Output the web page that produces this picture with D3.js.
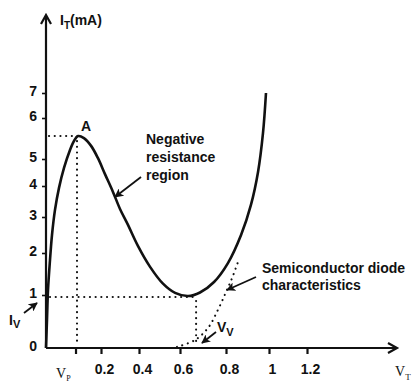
<!DOCTYPE html>
<html><head><meta charset="utf-8">
<script src="https://cdn.jsdelivr.net/npm/d3@7"></script>
<style>
html,body{margin:0;padding:0;background:#fff;}
svg{display:block;}
text{font-family:"Liberation Sans",Arial,sans-serif;font-weight:bold;fill:#111;}
.serif{font-family:"Liberation Serif","Times New Roman",serif;font-weight:normal;}
</style></head><body>
<svg id="chart" width="415" height="382"></svg>
<script>
// ---- data ----
const xTickValues = [0.2, 0.4, 0.6, 0.8, 1, 1.2];
const xTickLabels = ["0.2", "0.4", "0.6", "0.8", "1", "1.2"];
const yTickValues = [0, 1, 2, 3, 4, 5, 6, 7];
const yTickLabels = ["0", "1", "2", "3", "4", "5", "6", "7"];
// tunnel diode characteristic: V_T (V) and I_T (mA)
const curveV = [0, 0.0036, 0.0073, 0.0145, 0.0218, 0.0327, 0.0473, 0.0655, 0.0873, 0.1018, 0.1164,
  0.138, 0.164, 0.189, 0.221, 0.263, 0.300, 0.342, 0.395, 0.454, 0.517, 0.576, 0.635,
  0.687, 0.748, 0.809, 0.870, 0.916, 0.949, 0.972, 0.986];
const curveI = [0, 0.53, 1.12, 1.83, 2.5, 3.23, 3.94, 4.67, 5.22, 5.44, 5.56,
  5.51, 5.32, 5.02, 4.44, 3.81, 3.26, 2.78, 2.19, 1.67, 1.27, 1.05, 0.98,
  1.06, 1.31, 1.76, 2.5, 3.39, 4.52, 5.63, 7.0];
// ordinary semiconductor diode characteristic
const diodeV = [0.585, 0.665, 0.722, 0.765, 0.8, 0.828, 0.856];
const diodeI = [0.02, 0.15, 0.38, 0.72, 1.07, 1.4, 1.79];
// peak and valley points
const peakV = 0.1164, peakI = 5.56;
const valleyV = 0.67, valleyI = 1.0;

// ---- layout ----
const svg = d3.select("#chart");
const x = d3.scaleLinear().domain([0, 0.2, 0.4, 0.6, 0.8, 1, 1.2]).range([46, 101, 139, 180, 226, 269, 307]);
const y = d3.scaleLinear().domain([0, 1, 2, 3, 4, 5, 6, 7]).range([348, 295, 253, 217, 186, 159, 118, 93]);
const x0 = x(0), y0 = y(0);
const xEnd = 397, yTop = 15;

const defs = svg.append("defs");
defs.append("marker").attr("id", "ah").attr("viewBox", "0 0 10 10").attr("refX", 9).attr("refY", 5)
  .attr("markerWidth", 9).attr("markerHeight", 9).attr("markerUnits", "userSpaceOnUse").attr("orient", "auto")
  .append("path").attr("d", "M0,0 L10,5 L0,10 L2.5,5 Z").attr("fill", "#111");

// dotted guide lines
const dot = g => g.attr("stroke", "#111").attr("stroke-width", 2.1).attr("stroke-linecap", "round")
  .attr("stroke-dasharray", "0.1,5.6").attr("fill", "none");
svg.append("line").attr("x1", x0 + 3).attr("x2", x(peakV)).attr("y1", y(peakI)).attr("y2", y(peakI)).call(dot);
svg.append("line").attr("x1", x(peakV) - 1).attr("x2", x(peakV) - 1).attr("y1", y(peakI) + 5).attr("y2", y0 - 3).call(dot);
svg.append("line").attr("x1", x0 + 4).attr("x2", x(valleyV)).attr("y1", y(valleyI) + 2).attr("y2", y(valleyI) + 2).call(dot);
svg.append("line").attr("x1", x(valleyV)).attr("x2", x(valleyV)).attr("y1", y(valleyI) + 6).attr("y2", y0 - 4).call(dot);

// diode dotted curve
const diodeLine = d3.line().x(d => x(d[0])).y(d => y(d[1])).curve(d3.curveCatmullRom);
svg.append("path").attr("d", diodeLine(diodeV.map((v, i) => [v, diodeI[i]]))).call(dot);

// axes
const xAxis = d3.axisBottom(x).tickValues(xTickValues).tickFormat((d, i) => xTickLabels[i]).tickSize(6).tickPadding(10);
const gx = svg.append("g").attr("transform", `translate(0,${y0})`).call(xAxis);
gx.select(".domain").remove();
gx.selectAll(".tick line").attr("stroke", "#111").attr("stroke-width", 2.2);
gx.selectAll(".tick text").attr("font-size", 14).attr("dx", 3).attr("font-family", "Liberation Sans, Arial, sans-serif");

const yAxis = d3.axisLeft(y).tickValues(yTickValues).tickFormat((d, i) => yTickLabels[i]).tickSize(4).tickPadding(5);
const gy = svg.append("g").attr("transform", `translate(${x0},0)`).call(yAxis);
gy.select(".domain").remove();
gy.selectAll(".tick line").attr("stroke", "#111").attr("stroke-width", 1.6);
gy.selectAll(".tick text").attr("font-size", 14).attr("dy", "0.2em").attr("font-family", "Liberation Sans, Arial, sans-serif");
gy.selectAll(".tick").filter(d => d === 0).select("line").remove();

// V_P tick
svg.append("line").attr("x1", x(peakV) - 2).attr("x2", x(peakV) - 2).attr("y1", y0).attr("y2", y0 + 6).attr("stroke", "#111").attr("stroke-width", 2.2);

// axis lines with open arrowheads
svg.append("path").attr("d", `M${x0},${y0} H${xEnd} M${xEnd - 9},${y0 - 5} L${xEnd},${y0} L${xEnd - 9},${y0 + 5}`)
  .attr("stroke", "#111").attr("stroke-width", 2.2).attr("fill", "none");
svg.append("path").attr("d", `M${x0},${y0} V${yTop} M${x0 - 5},${yTop + 9} L${x0},${yTop} L${x0 + 5},${yTop + 9}`)
  .attr("stroke", "#111").attr("stroke-width", 2.2).attr("fill", "none");

// main curve
const line = d3.line().x(d => x(d[0])).y(d => y(d[1])).curve(d3.curveCatmullRom.alpha(0.5));
svg.append("path").attr("d", line(curveV.map((v, i) => [v, curveI[i]])))
  .attr("fill", "none").attr("stroke", "#111").attr("stroke-width", 2.6);

// labels
const t1 = svg.append("text").attr("x", x0 + 14).attr("y", 25).attr("font-size", 14).attr("font-weight", "normal");
t1.append("tspan").text("I");
t1.append("tspan").attr("font-size", 10).attr("dy", 4).text("T");
t1.append("tspan").attr("dy", -4).text("(mA)");

svg.append("text").attr("x", x(peakV) + 3).attr("y", y(peakI) - 5).attr("font-size", 14).attr("font-weight", "normal").text("A");

const nr = svg.append("text").attr("x", 146).attr("y", 144).attr("font-size", 14);
["Negative", "resistance", "region"].forEach((s, i) => nr.append("tspan").attr("x", 146).attr("dy", i ? 18 : 0).text(s));
svg.append("line").attr("x1", 141).attr("y1", 177).attr("x2", 115).attr("y2", 197)
  .attr("stroke", "#111").attr("stroke-width", 1.8).attr("marker-end", "url(#ah)");

const sd = svg.append("text").attr("x", 262).attr("y", 273).attr("font-size", 14);
["Semiconductor diode", "characteristics"].forEach((s, i) => sd.append("tspan").attr("x", 262).attr("dy", i ? 17 : 0).text(s));
svg.append("line").attr("x1", 256).attr("y1", 277).attr("x2", 227).attr("y2", 290)
  .attr("stroke", "#111").attr("stroke-width", 1.8).attr("marker-end", "url(#ah)");

// I_V
const iv = svg.append("text").attr("x", 9).attr("y", 325).attr("font-size", 14);
iv.append("tspan").text("I");
iv.append("tspan").attr("font-size", 11).attr("dy", 3).text("V");
svg.append("line").attr("x1", 24).attr("y1", 313).attr("x2", 37).attr("y2", 303)
  .attr("stroke", "#111").attr("stroke-width", 1.8).attr("marker-end", "url(#ah)");

// V_V
const vv = svg.append("text").attr("x", 217).attr("y", 332).attr("font-size", 14);
vv.append("tspan").text("V");
vv.append("tspan").attr("font-size", 11).attr("dy", 4).text("V");
svg.append("line").attr("x1", 216).attr("y1", 332).attr("x2", 202).attr("y2", 343)
  .attr("stroke", "#111").attr("stroke-width", 1.8).attr("marker-end", "url(#ah)");

// V_P and V_T (serif)
const vp = svg.append("text").attr("class", "serif").attr("x", 56).attr("y", 378).attr("font-size", 14);
vp.append("tspan").text("V");
vp.append("tspan").attr("font-size", 8).attr("dy", 3).text("P");
const vt = svg.append("text").attr("class", "serif").attr("x", 395).attr("y", 376).attr("font-size", 14);
vt.append("tspan").text("V");
vt.append("tspan").attr("font-size", 9).attr("dy", 4).text("T");
</script>
</body></html>
